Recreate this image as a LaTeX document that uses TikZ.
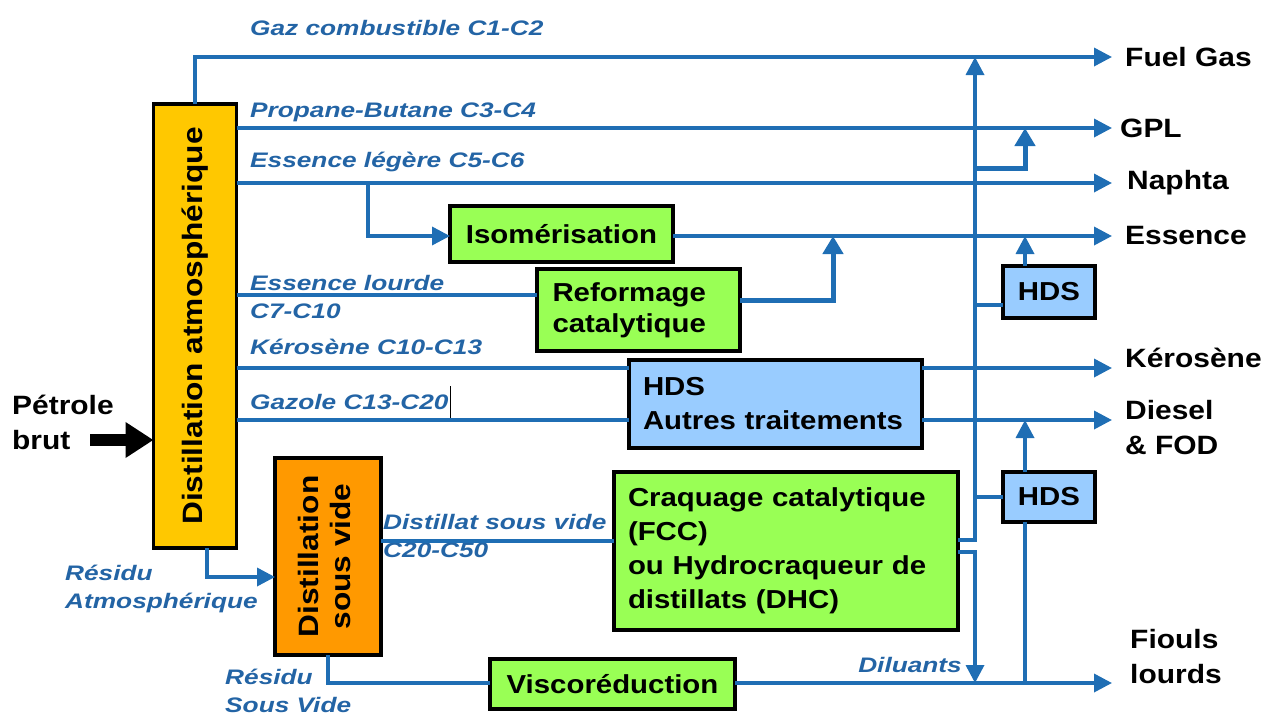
\documentclass[tikz,border=0pt]{standalone}
\usepackage{fontspec}
\setmainfont{Liberation Sans}[FakeStretch=1.13]
\newfontfamily\lblfont{Liberation Sans}[FakeStretch=1.25]
\usetikzlibrary{arrows.meta}
\definecolor{ln}{RGB}{31,110,180}
\definecolor{lt}{RGB}{35,100,165}
\definecolor{yel}{RGB}{255,200,0}
\definecolor{ora}{RGB}{255,153,0}
\definecolor{grn}{RGB}{153,255,85}
\definecolor{blu}{RGB}{153,204,255}
\tikzset{
  box/.style={draw=black, line width=3.2pt, inner sep=0pt, outer sep=0pt, font=\bfseries\fontsize{26}{34}\selectfont},
  flow/.style={draw=ln, line width=3.5pt, -{Triangle[length=18pt,width=18pt]}},
  flowthick/.style={draw=ln, line width=5pt, -{Triangle[length=18pt,width=20pt]}},
  pipe/.style={draw=ln, line width=3.5pt},
  lab/.style={text=lt, font=\lblfont\bfseries\itshape\fontsize{21}{28}\selectfont, anchor=west, inner sep=0pt, align=left},
  outtxt/.style={font=\bfseries\fontsize{26.5}{35}\selectfont, anchor=west, inner sep=0pt, align=left},
  rot/.style={font=\bfseries\fontsize{28}{32}\selectfont},
}
\begin{document}
\begin{tikzpicture}[x=1pt,y=-1pt]
\useasboundingbox (0,0) rectangle (1280,715);
% boxes
\node[box, rot, fill=yel, minimum width=83pt, minimum height=444pt] (atm) at (195,326) {\rotatebox{90}{Distillation atmosphérique}};
\node[box, rot, fill=ora, minimum width=106pt, minimum height=197pt] (vac) at (328,556.5) {\rotatebox{90}{\begin{tabular}{@{}c@{}}Distillation\\sous vide\end{tabular}}};
\node[box, fill=grn, minimum width=223pt, minimum height=56pt] (iso) at (561.5,234) {Isomérisation};
\node[box, fill=grn, minimum width=203pt, minimum height=82pt, align=left, text width=172pt] (ref) at (638.5,310) {Reformage\\[-3pt]catalytique};
\node[box, fill=blu, minimum width=293pt, minimum height=88pt, align=left, text width=265pt] (hds) at (775.5,404) {HDS\\Autres traitements};
\node[box, fill=grn, minimum width=344pt, minimum height=158pt, align=left, text width=316pt] (fcc) at (786,551) {Craquage catalytique\\(FCC)\\ou Hydrocraqueur de\\distillats (DHC)};
\node[box, fill=grn, minimum width=245pt, minimum height=50pt] (visc) at (612.5,684) {Viscoréduction};
\node[box, fill=blu, minimum width=92pt, minimum height=52pt] (hdsA) at (1049,292) {HDS};
\node[box, fill=blu, minimum width=92pt, minimum height=50pt] (hdsB) at (1049,497) {HDS};
% outputs
\node[outtxt] (tfg) at (1125,57) {Fuel Gas};
\node[outtxt] (tgpl) at (1120,128) {GPL};
\node[outtxt] (tnap) at (1127,183) {Naphta};
\node[outtxt] (tess) at (1125,236) {Essence};
\node[outtxt] (tker) at (1125,358) {Kérosène};
\node[outtxt] (tdie) at (1125,428) {Diesel\\\& FOD};
\node[outtxt] (tfio) at (1130,657) {Fiouls\\lourds};
\node[outtxt] (tpb) at (12,422) {Pétrole\\brut};
% labels
\node[lab] (l1) at (250,28) {Gaz combustible C1-C2};
\node[lab] (l2) at (250,112) {Propane-Butane C3-C4};
\node[lab] (l3) at (250,162) {Essence légère C5-C6};
\node[lab] (l4) at (250,297) {Essence lourde\\C7-C10};
\node[lab] (l5) at (250,347) {Kérosène C10-C13};
\node[lab] (l6) at (250,402) {Gazole C13-C20};
\node[lab] (l7) at (383,536) {Distillat sous vide\\C20-C50};
\node[lab] (l8) at (65,589) {Résidu\\Atmosphérique};
\node[lab] (l9) at (225,691) {Résidu\\Sous Vide};
\node[lab, anchor=east] (l10) at (962,665) {Diluants};
% coordinates
\coordinate (fg) at (1112,57);
\coordinate (gpl) at (1112,128);
\coordinate (nap) at (1112,183);
\coordinate (ess) at (1112,236);
\coordinate (ker) at (1112,368);
\coordinate (die) at (1112,420);
\coordinate (fio) at (1112,683);
\coordinate (j1) at (368,183);
\coordinate (el) at (300,295);
\coordinate (r0) at (740,300);
\coordinate (r1) at (833,236);
\coordinate (v1) at (975,540);
\coordinate (vtop) at (975,57);
\coordinate (v2) at (975,552);
\coordinate (vbot) at (975,683);
\coordinate (b1) at (975,168);
\coordinate (b2) at (1025,128);
\coordinate (b3) at (975,305);
\coordinate (c1) at (1025,236);
\coordinate (b4) at (975,497);
\coordinate (c2) at (1025,420);
\coordinate (c3) at (1025,683);
\coordinate (ra) at (207,577);
\coordinate (ds) at (500,541);
\coordinate (pa) at (90,440);
\coordinate (cur1) at (450,386);
\coordinate (cur2) at (450,418);
% connectors
\draw[flow] (atm.north) |- (fg);
\draw[flow] (atm.east |- gpl) -- (gpl);
\draw[flow] (atm.east |- nap) -- (nap);
\draw[flow] (j1) |- (iso.west |- ess);
\draw[flow] (iso.east |- ess) -- (ess);
\draw[pipe] (atm.east |- el) -- (ref.west |- el);
\draw[flowthick] (r0) -| (r1);
\draw[pipe] (atm.east |- ker) -- (hds.west |- ker);
\draw[flow] (hds.east |- ker) -- (ker);
\draw[pipe] (atm.east |- die) -- (hds.west |- die);
\draw[flow] (hds.east |- die) -- (die);
\draw[flow] (fcc.east |- v1) -- (v1) -- (vtop);
\draw[flow] (fcc.east |- v2) -- (v2) -- (vbot);
\draw[flowthick] (b1) -| (b2);
\draw[pipe] (b3) -- (hdsA.west |- b3);
\draw[flow] (hdsA.north -| c1) -- (c1);
\draw[pipe] (b4) -- (hdsB.west |- b4);
\draw[flow] (hdsB.north -| c2) -- (c2);
\draw[pipe] (hdsB.south -| c3) -- (c3);
\draw[flow] (visc.east |- fio) -- (fio);
\draw[flow] (atm.south -| ra) -- (ra) -- (vac.west |- ra);
\draw[pipe] (vac.east |- ds) -- (fcc.west |- ds);
\draw[pipe] (vac.south) |- (visc.west |- fio);
\draw[line width=12pt, -{Triangle[length=28pt,width=34pt]}] (pa) -- (atm.west |- pa);
\draw[line width=1pt] (cur1) -- (cur2);
\end{tikzpicture}
\end{document}
